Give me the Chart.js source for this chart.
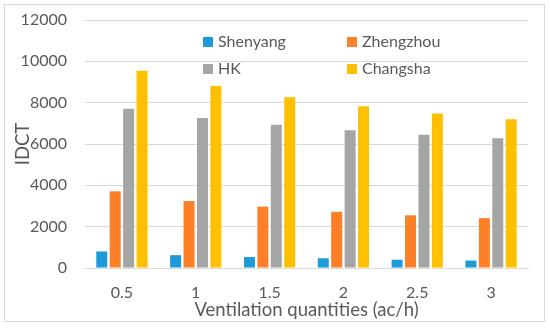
<!DOCTYPE html>
<html><head><meta charset="utf-8">
<script src="https://cdn.jsdelivr.net/npm/chart.js@4/dist/chart.umd.min.js"></script>
<style>
html,body{margin:0;padding:0;background:#fff;}
#wrap{position:relative;width:550px;height:328px;}
#frame{position:absolute;left:4px;top:4px;width:539px;height:316px;border:1px solid #d9d9d9;pointer-events:none;}
canvas{position:absolute;left:0;top:0;}
</style></head>
<body><div id="wrap"><canvas id="c" width="550" height="328"></canvas><div id="frame"></div></div>
<script>
const categories = ['0.5','1','1.5','2','2.5','3'];
const seriesNames = ['Shenyang','Zhengzhou','HK','Changsha'];
const shenyang = [800, 620, 530, 470, 400, 360];
const zhengzhou = [3710, 3240, 2970, 2720, 2550, 2410];
const hk = [7710, 7260, 6930, 6660, 6450, 6280];
const changsha = [9550, 8810, 8260, 7830, 7470, 7200];
const yTicks = [0, 2000, 4000, 6000, 8000, 10000, 12000];
const colors = ['#1f9ad8', '#fd7f27', '#a5a5a5', '#ffc000'];
const FONT = 'Lato, "Open Sans", sans-serif';
const TXT = '#595959';

const legendPos = [[203,42],[347,42],[203,69],[347,69]];
const legendPlugin = {
  id: 'customLegend',
  afterDraw(chart) {
    const ctx = chart.ctx;
    ctx.save();
    ctx.font = '16px ' + FONT;
    ctx.textBaseline = 'middle';
    ctx.textAlign = 'left';
    chart.data.datasets.forEach((ds, i) => {
      const [x, y] = legendPos[i];
      ctx.fillStyle = ds.backgroundColor;
      ctx.fillRect(x, y - 5, 10, 10);
      ctx.fillStyle = TXT;
      ctx.fillText(ds.label, x + 15, y);
    });
    ctx.restore();
  }
};

const values = [shenyang, zhengzhou, hk, changsha];
new Chart(document.getElementById('c'), {
  type: 'bar',
  data: {
    labels: categories,
    datasets: seriesNames.map((n, i) => ({
      label: n, data: values[i], backgroundColor: colors[i],
      barPercentage: 0.82, categoryPercentage: 0.727
    }))
  },
  options: {
    responsive: false, animation: false,
    layout: { padding: { left: 0, right: 22, top: 20, bottom: 7 } },
    plugins: { legend: { display: false }, tooltip: { enabled: false } },
    scales: {
      x: {
        grid: { display: false, drawTicks: false },
        border: { display: true, color: '#d9d9d9' },
        ticks: { color: TXT, font: { family: FONT, size: 16 }, padding: 15 },
        title: { display: true, text: 'Ventilation quantities (ac/h)', color: TXT, font: { family: FONT, size: 18.5 }, padding: { top: 0, bottom: 0 } },
        afterFit(s) { s.height = 53; s.paddingLeft = 0; s.paddingRight = 0; }
      },
      y: {
        min: 0, max: 12000,
        afterBuildTicks(s) { s.ticks = yTicks.map(v => ({ value: v })); },
        grid: { color: '#d9d9d9', drawTicks: false },
        border: { display: false },
        ticks: { color: TXT, font: { family: FONT, size: 16 }, padding: 18, callback: v => String(v) },
        title: { display: true, text: 'IDCT', color: TXT, font: { family: FONT, size: 18.5 }, padding: { top: 12, bottom: 0 } },
        afterFit(s) { s.width = 85; s.paddingTop = 0; s.paddingBottom = 0; }
      }
    }
  },
  plugins: [legendPlugin]
});
</script></body></html>
